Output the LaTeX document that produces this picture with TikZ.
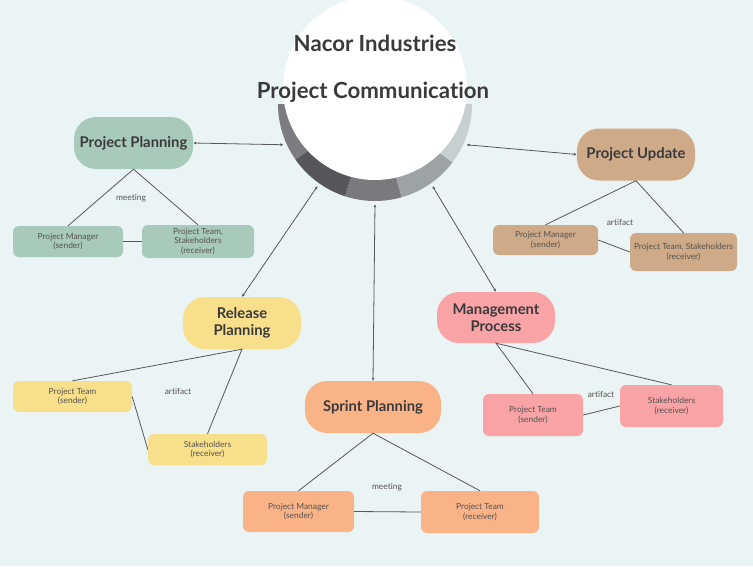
\documentclass[tikz,border=0pt]{standalone}
\usepackage{fontspec}
\setmainfont{Lato}[Ligatures={NoCommon,NoRare}]
\usetikzlibrary{arrows.meta}
\definecolor{bg}{HTML}{EBF4F5}
\definecolor{segA}{HTML}{7D7C82}
\definecolor{segB}{HTML}{57565B}
\definecolor{segC}{HTML}{7A797E}
\definecolor{segD}{HTML}{9DA2A5}
\definecolor{segE}{HTML}{C8CFD1}
\definecolor{cPP}{HTML}{A7CABA}
\definecolor{cPU}{HTML}{CFAA88}
\definecolor{cRP}{HTML}{F8DF8B}
\definecolor{cMP}{HTML}{F8A3A6}
\definecolor{cSP}{HTML}{F9B387}
\definecolor{txt}{HTML}{3A3A3C}
\definecolor{stxt}{HTML}{55524F}
\definecolor{lin}{HTML}{555759}
\begin{document}
\begin{tikzpicture}[x=1pt,y=-1pt,
  big/.style={rounded corners=22pt, minimum height=52pt, align=center, text=txt,
    font=\bfseries\fontsize{14.8}{16.5}\selectfont, inner sep=2pt},
  small/.style={rounded corners=6pt, align=center, text=stxt,
    font=\fontsize{8.4}{9.6}\selectfont, inner sep=2pt},
  lbl/.style={text=stxt, font=\fontsize{8.4}{10}\selectfont},
  hubarrow/.style={draw=lin, line width=0.8pt, {Latex[length=3pt,width=3pt]}-{Latex[length=3pt,width=3pt]}},
  tri/.style={draw=lin, line width=0.8pt}]
\fill[bg] (0,0) rectangle (753,566);
\useasboundingbox (0,0) rectangle (753,566);
% ring segments
\fill[segA] (375,104) -- ++(180:97) arc[start angle=180,end angle=145,radius=97] -- cycle;
\fill[segB] (375,104) -- ++(145:97) arc[start angle=145,end angle=108,radius=97] -- cycle;
\fill[segC] (375,104) -- ++(108:97) arc[start angle=108,end angle=74,radius=97] -- cycle;
\fill[segD] (375,104) -- ++(74:97) arc[start angle=74,end angle=37,radius=97] -- cycle;
\fill[segE] (375,104) -- ++(37:97) arc[start angle=37,end angle=0,radius=97] -- cycle;
\node[circle, fill=white, minimum size=184pt, inner sep=0pt] (hub) at (375,88) {};
\node[circle, minimum size=200pt, inner sep=0pt] (ring) at (375,104) {};
\node[text=txt, font=\bfseries\fontsize{22.2}{25}\selectfont] (t1) at (375,43) {Nacor Industries};
\node[text=txt, font=\bfseries\fontsize{22.2}{25}\selectfont] (t2) at (373,92) {Project Communication};
% main nodes
\node[big, fill=cPP, minimum width=119pt] (pp) at (133.5,143) {Project Planning};
\node[big, fill=cPU, minimum width=118pt] (pu) at (636,154.5) {Project Update};
\node[big, fill=cRP, minimum width=118pt] (rp) at (242,323) {Release\\Planning};
\node[big, fill=cMP, minimum width=118pt, minimum height=51pt] (mp) at (496,317.5) {Management\\Process};
\node[big, fill=cSP, minimum width=136pt] (sp) at (373,407) {Sprint Planning};
% small nodes
\node[small, fill=cPP, minimum width=110pt, minimum height=31pt] (pp1) at (68,241.5) {Project Manager\\(sender)};
\node[small, fill=cPP, minimum width=112pt, minimum height=33pt] (pp2) at (198,241.5) {Project Team,\\Stakeholders\\(receiver)};
\node[small, fill=cPU, minimum width=105pt, minimum height=30pt] (pu1) at (545.5,240) {Project Manager\\(sender)};
\node[small, fill=cPU, minimum width=107pt, minimum height=38pt, inner sep=1pt] (pu2) at (683.5,252) {Project Team, Stakeholders\\(receiver)};
\node[small, fill=cRP, minimum width=119pt, minimum height=31pt] (rp1) at (72.5,396.5) {Project Team\\(sender)};
\node[small, fill=cRP, minimum width=119pt, minimum height=31pt] (rp2) at (207.5,449.5) {Stakeholders\\(receiver)};
\node[small, fill=cMP, minimum width=100pt, minimum height=42pt] (mp1) at (533,415) {Project Team\\(sender)};
\node[small, fill=cMP, minimum width=103pt, minimum height=42pt] (mp2) at (671.5,406) {Stakeholders\\(receiver)};
\node[small, fill=cSP, minimum width=111pt, minimum height=41pt] (sp1) at (298.5,511.5) {Project Manager\\(sender)};
\node[small, fill=cSP, minimum width=118pt, minimum height=42pt] (sp2) at (480,512) {Project Team\\(receiver)};
% labels
\node[lbl] (l1) at (131,198) {meeting};
\node[lbl] (l2) at (620,222) {artifact};
\node[lbl] (l3) at (178,391) {artifact};
\node[lbl] (l4) at (601,394) {artifact};
\node[lbl] (l5) at (387,487) {meeting};
% hub arrows
\draw[hubarrow] (pp.east) -- (ring.204);
\draw[hubarrow] (ring.336) -- (pu.west);
\draw[hubarrow] (ring.235) -- (rp.north);
\draw[hubarrow] (ring.270) -- (sp.north);
\draw[hubarrow] (ring.305) -- (mp.north);
% triangles
\draw[tri] (pp1.north) -- (pp.south) -- (pp2.north);
\draw[tri] (pp1.east) -- (pp2.west);
\draw[tri] (pu1.north) -- (pu.south) -- (pu2.north);
\draw[tri] (pu1.east) -- (pu2.west);
\draw[tri] (rp1.north) -- (rp.south) -- (rp2.north);
\draw[tri] (rp1.east) -- (rp2.west);
\draw[tri] (mp1.north) -- (mp.south) -- (mp2.north);
\draw[tri] (mp1.east) -- (mp2.west);
\draw[tri] (sp1.north) -- (sp.south) -- (sp2.north);
\draw[tri] (sp1.east) -- (sp2.west);
\end{tikzpicture}
\end{document}
